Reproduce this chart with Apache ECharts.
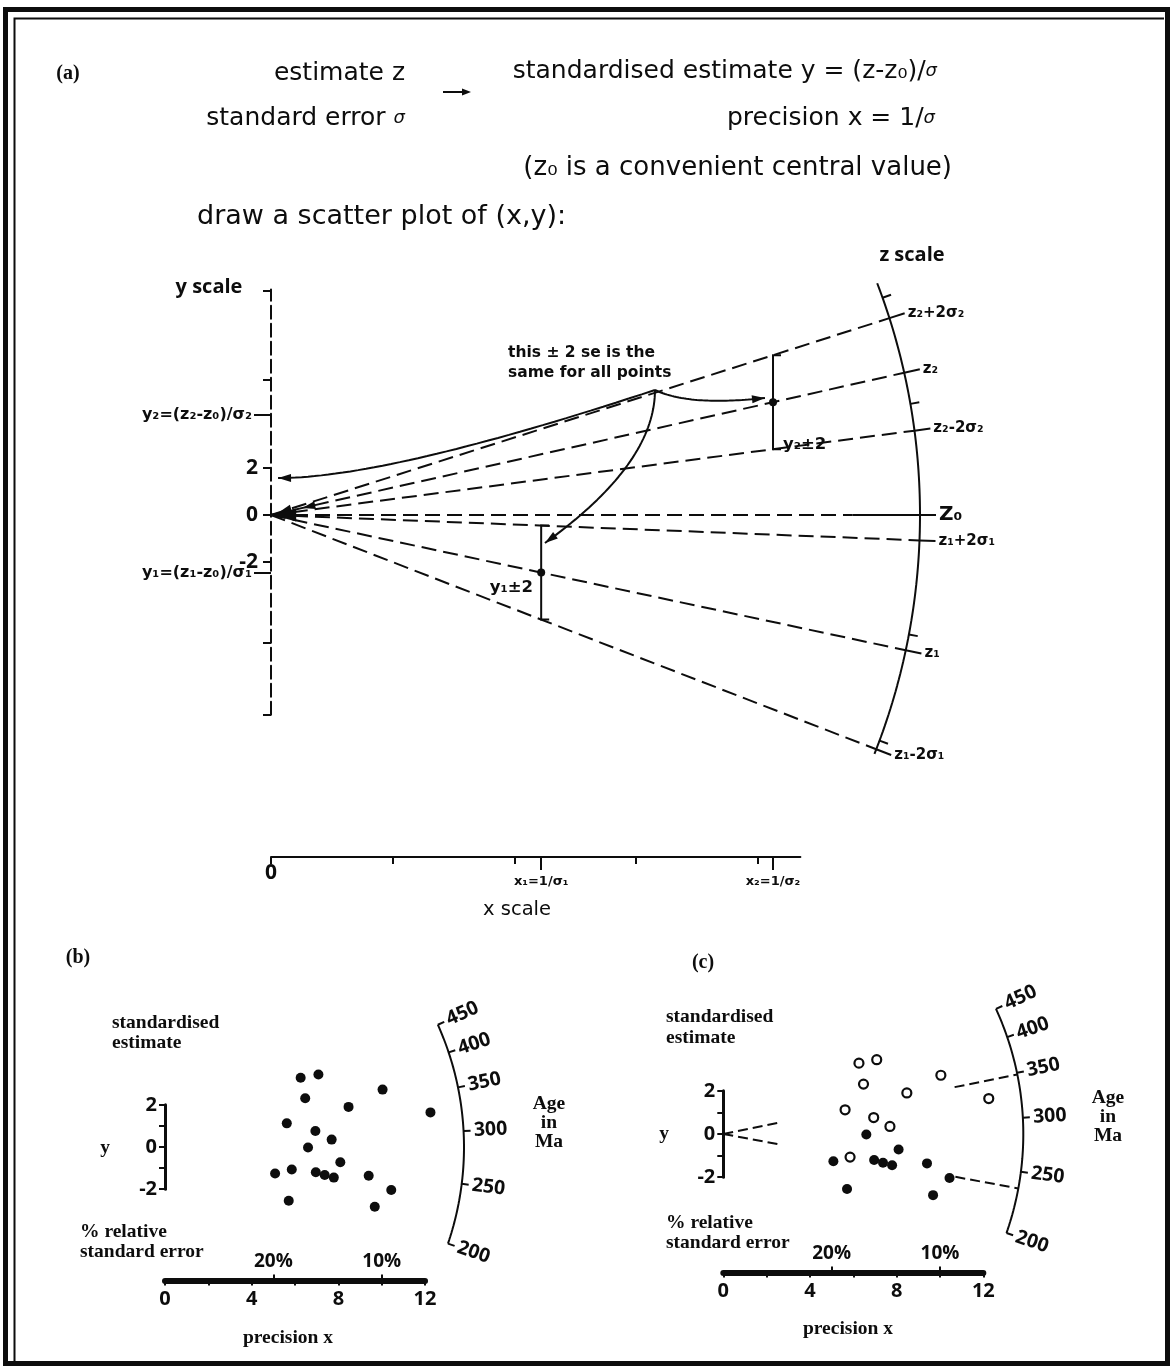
<!DOCTYPE html>
<html>
<head>
<meta charset="utf-8">
<script src="https://cdn.jsdelivr.net/npm/echarts@6/dist/echarts.min.js"></script>
<style>
  html, body { margin: 0; padding: 0; background: #ffffff; }
  #chart { width: 1174px; height: 1367px; }
</style>
</head>
<body>
<div id="chart"></div>
<script>
// ---------------- panel (a): construction of the radial plot ----------------
const aPrecision = [2.22, 4.125];          // x1 = 1/σ1, x2 = 1/σ2
const aStandardised = [-2.45, 4.8];        // y1, y2
const aYTicks = [9.55, 5.75, 2, 0, -2, -5.45, -8.5];
const aYLabelled = [2, 0, -2];
const aYNamedTicks = [4.25, -2.45];        // where y2 and y1 are marked on the y scale
const aYNamedLabels = ['y₂=(z₂-z₀)/σ₂', 'y₁=(z₁-z₀)/σ₁'];
const aXTicks = [0, 1, 2, 3, 4];
const aXLabelled = [0];
const aXNamedLabels = ['x₁=1/σ₁', 'x₂=1/σ₂'];
const aZLabels = ['z₂+2σ₂', 'z₂', 'z₂-2σ₂', 'Z₀', 'z₁+2σ₁', 'z₁', 'z₁-2σ₁'];
const aZMinorSlopes = [1.84, 0.90, -0.97, -1.92];
const aZArcEndSlopes = [1.98, -2.05];
// annotation arrows: Bézier control points (x, y in the units of panel a)
const curveToAxis = [[3.155, 5.32], [0.961, 1.574], [0.058, 1.57]];
const curveToPoint2 = [[3.155, 5.32], [3.361, 4.81], [3.689, 4.77], [4.059, 4.98]];
const curveToPoint1 = [[3.155, 5.32], [3.155, 2.17], [2.251, -1.19]];

// ---------------- panels (b) and (c): 20 grain ages ----------------
const z0Age = 284;                          // central age, Ma
const upperX = [6.26, 7.08, 6.47, 10.04, 8.47, 12.25, 5.62, 6.94, 7.69, 5.85];
const upperY = [3.28, 3.44, 2.31, 2.72, 1.90, 1.64, 1.12, 0.76, 0.35, -1.07];
const lowerX = [6.60, 8.09, 5.08, 6.96, 7.37, 7.79, 9.40, 10.44, 5.71, 9.68];
const lowerY = [-0.02, -0.72, -1.26, -1.20, -1.33, -1.45, -1.36, -2.04, -2.55, -2.83];
const ageTicks = [200, 250, 300, 350, 400, 450];
const componentAges = [348, 236];
const precisionTicks = [0, 4, 8, 12];
const rseTicks = [20, 10];                  // % relative standard error

// ---------------- styling ----------------
const INK = '#0d0d0d';
const SANS = '"Open Sans", "DejaVu Sans", sans-serif';
const WIDE = '"DejaVu Sans", "Open Sans", sans-serif';
const SERIF = '"Liberation Serif", "DejaVu Serif", serif';

const grids = [], xAxes = [], yAxes = [], series = [], graphics = [];
function addGrid(g) { grids.push(Object.assign({ outerBoundsMode: 'none' }, g)); return grids.length - 1; }
function hiddenAxis(gi, min, max) { return { gridIndex: gi, type: 'value', min: min, max: max, show: false }; }
function angleOfSlope(L, s) { return Math.atan2(s * L.Y, L.X); }
function polar(L, r, t) { return [r * Math.cos(t) / L.X, r * Math.sin(t) / L.Y]; }
function arcPts(L, r, t0, t1, n) {
  const pts = [];
  for (let i = 0; i <= n; i++) pts.push(polar(L, r, t0 + (t1 - t0) * i / n));
  return pts;
}
// sample a Bézier curve given by its control points (de Casteljau)
function bezier(ctrl, n) {
  const out = [];
  for (let i = 0; i <= n; i++) {
    const t = i / n;
    let p = ctrl.map(c => c.slice());
    while (p.length > 1) {
      const q = [];
      for (let k = 0; k < p.length - 1; k++)
        q.push([p[k][0] + (p[k + 1][0] - p[k][0]) * t, p[k][1] + (p[k + 1][1] - p[k][1]) * t]);
      p = q;
    }
    out.push(p[0]);
  }
  return out;
}
function segs(xi, yi, list, style, z) {
  return {
    type: 'lines', coordinateSystem: 'cartesian2d', xAxisIndex: xi, yAxisIndex: yi,
    polyline: true, silent: true, z: z || 2, animation: false,
    lineStyle: Object.assign({ color: INK, width: 2, opacity: 1, curveness: 0 }, style || {}),
    data: list.map(c => ({ coords: c }))
  };
}
function curve(xi, yi, pts) {
  return {
    type: 'line', xAxisIndex: xi, yAxisIndex: yi, data: pts, showSymbol: false,
    silent: true, z: 3, lineStyle: { color: INK, width: 2 }
  };
}
function arrowHead(L, pts, len) {
  const n = pts.length - 1;
  const t = Math.atan2((pts[n][1] - pts[n - 1][1]) * L.Y, (pts[n][0] - pts[n - 1][0]) * L.X);
  return {
    value: [pts[n][0] - Math.cos(t) * len / 2 / L.X, pts[n][1] - Math.sin(t) * len / 2 / L.Y],
    symbolRotate: t * 180 / Math.PI - 90
  };
}
function dots(xi, yi, data, size, itemStyle) {
  return { type: 'scatter', xAxisIndex: xi, yAxisIndex: yi, symbolSize: size, silent: true, z: 5,
    itemStyle: Object.assign({ opacity: 1 }, itemStyle), data: data };
}
function txt(text, x, y, o) {
  o = o || {};
  const style = {
    text: text, x: 0, y: 0, fill: INK,
    fontFamily: o.family || (o.serif ? SERIF : SANS), fontSize: o.size || 17,
    fontWeight: o.weight || 'bold', align: o.align || 'left', verticalAlign: 'middle'
  };
  if (o.rich) style.rich = o.rich;
  return { type: 'text', x: x, y: y, silent: true, style: style };
}

// ================= panel (a) =================
const A = { X: 121.7, Y: 23.5, ox: 271, oy: 515 };
const R_A = 649;
const [x1, x2] = aPrecision;
const [y1, y2] = aStandardised;
const aRaySlopes = [(y2 + 2) / x2, y2 / x2, (y2 - 2) / x2, 0, (y1 + 2) / x1, y1 / x1, (y1 - 2) / x1];

const gA = addGrid({ left: A.ox, top: A.oy - 12 * A.Y, width: 6 * A.X, height: 28 * A.Y });
xAxes.push(hiddenAxis(gA, 0, 6));          // x 0
yAxes.push(hiddenAxis(gA, -16, 12));       // y 0

// y scale (dashed)
const gAy = addGrid({ left: A.ox, top: A.oy - 9.6 * A.Y, width: 40, height: 18.1 * A.Y });
xAxes.push(hiddenAxis(gAy, 0, 1));         // x 1
yAxes.push({                               // y 1
  gridIndex: gAy, type: 'value', min: -8.5, max: 9.6, position: 'left',
  axisLine: { onZero: false, lineStyle: { color: INK, width: 2, type: [13, 5] } },
  axisTick: { customValues: aYTicks, length: 8, lineStyle: { color: INK, width: 2 } },
  axisLabel: { customValues: aYLabelled, margin: 13, color: INK, fontFamily: SANS, fontWeight: 'bold', fontSize: 21,
    formatter: v => String(v) },
  splitLine: { show: false }
});
yAxes.push({                               // y 2
  gridIndex: gAy, type: 'value', min: -8.5, max: 9.6, position: 'left',
  axisLine: { show: false, onZero: false },
  axisTick: { customValues: aYNamedTicks, length: 17, lineStyle: { color: INK, width: 2 } },
  axisLabel: { customValues: aYNamedTicks, margin: 19, color: INK, fontFamily: WIDE, fontWeight: 'bold', fontSize: 16,
    formatter: v => aYNamedLabels[aYNamedTicks.indexOf(v)] },
  splitLine: { show: false }
});

// x scale
const gAx = addGrid({ left: A.ox, top: 856, width: 4.35 * A.X, height: 1 });
xAxes.push({                               // x 2
  gridIndex: gAx, type: 'value', min: 0, max: 4.35, position: 'bottom',
  axisLine: { onZero: false, lineStyle: { color: INK, width: 2 } },
  axisTick: { customValues: aXTicks, length: 7, lineStyle: { color: INK, width: 2 } },
  axisLabel: { customValues: aXLabelled, margin: 6, color: INK, fontFamily: SANS, fontWeight: 'bold', fontSize: 21 },
  splitLine: { show: false }
});
xAxes.push({                               // x 3
  gridIndex: gAx, type: 'value', min: 0, max: 4.35, position: 'bottom',
  axisLine: { show: false, onZero: false },
  axisTick: { customValues: aPrecision, length: 13, lineStyle: { color: INK, width: 2 } },
  axisLabel: { customValues: aPrecision, margin: 18, color: INK, fontFamily: WIDE, fontWeight: 'bold', fontSize: 13,
    formatter: v => aXNamedLabels[aPrecision.indexOf(v)] },
  splitLine: { show: false }
});
yAxes.push(hiddenAxis(gAx, 0, 1));         // y 3
series.push({ type: 'line', xAxisIndex: 1, yAxisIndex: 1, data: [], silent: true });
series.push({ type: 'line', xAxisIndex: 2, yAxisIndex: 3, data: [], silent: true });

// rays from the origin to the z scale
const dashedRays = [], solidRays = [];
const z0SolidFrom = 4.78;
aRaySlopes.forEach(s => {
  const end = polar(A, R_A, angleOfSlope(A, s));
  if (s === 0) {
    dashedRays.push([[0, 0], [z0SolidFrom, 0]]);
    solidRays.push([[z0SolidFrom, 0], end]);
  } else {
    dashedRays.push([[0, 0], end]);
  }
});
series.push(segs(0, 0, dashedRays, { type: [15, 7] }));
series.push(segs(0, 0, solidRays, {}));

// z scale arc with its ticks and labels
const tA0 = angleOfSlope(A, aZArcEndSlopes[1]);
const tA1 = angleOfSlope(A, aZArcEndSlopes[0]);
series.push({ type: 'line', xAxisIndex: 0, yAxisIndex: 0, data: arcPts(A, R_A, tA0, tA1, 80),
  showSymbol: false, silent: true, z: 3, lineStyle: { color: INK, width: 2 } });
const zTicks = aRaySlopes.map(s => { const t = angleOfSlope(A, s); return [polar(A, R_A, t), polar(A, R_A + 16, t)]; })
  .concat(aZMinorSlopes.map(s => { const t = angleOfSlope(A, s); return [polar(A, R_A, t), polar(A, R_A + 9, t)]; }));
series.push(segs(0, 0, zTicks, { width: 2 }));
series.push({
  type: 'scatter', xAxisIndex: 0, yAxisIndex: 0, symbolSize: 0, silent: true, z: 6,
  itemStyle: { opacity: 1 },
  data: aRaySlopes.map((s, i) => ({
    value: polar(A, R_A + 16, angleOfSlope(A, s)), name: aZLabels[i],
    label: { fontSize: i === 3 ? 20 : 15 }
  })),
  label: { show: true, position: 'right', distance: 3, formatter: p => p.name, color: INK, opacity: 1,
    fontFamily: WIDE, fontWeight: 'bold' }
});

// ±2 bars and the two estimates
const cap = 8 / A.X;
series.push(segs(0, 0, aPrecision.map((x, i) => {
  const y = aStandardised[i];
  return [[x + cap, y + 2], [x, y + 2], [x, y - 2], [x + cap, y - 2]];
}), { width: 2 }, 4));
series.push(dots(0, 0, aPrecision.map((x, i) => [x, aStandardised[i]]), 8, { color: INK }));

// curved arrows from the note
const curves = [curveToAxis, curveToPoint2, curveToPoint1].map(c => bezier(c, 40));
curves.forEach(c => series.push(curve(0, 0, c)));
series.push({
  type: 'scatter', xAxisIndex: 0, yAxisIndex: 0, symbol: 'triangle', symbolSize: [8, 13], silent: true, z: 6,
  itemStyle: { color: INK, opacity: 1 },
  data: curves.map(c => arrowHead(A, c, 13)).concat([
    arrowHead(A, [[0.3, 0.3 * aRaySlopes[0]], [0.02, 0.02 * aRaySlopes[0]]], 24),
    arrowHead(A, [[0.45, 0.45 * aRaySlopes[1]], [0.25, 0.25 * aRaySlopes[1]]], 15)])
});
series.push({
  type: 'scatter', xAxisIndex: 0, yAxisIndex: 0, symbol: 'triangle', symbolSize: [13, 24], silent: true, z: 6,
  itemStyle: { color: INK, opacity: 1 },
  data: [arrowHead(A, [[0.3, 0], [0.01, 0]], 24)]
});

// ================= panels (b) and (c) =================
function radialPanel(L, R, split) {
  const gP = addGrid({ left: L.ox, top: L.oy - 8 * L.Y, width: 16 * L.X, height: 15 * L.Y });
  const xP = xAxes.push(hiddenAxis(gP, 0, 16)) - 1;
  const yP = yAxes.push(hiddenAxis(gP, -7, 8)) - 1;

  // precision axis with % relative standard error above it
  const gX = addGrid({ left: L.ox, top: L.axisY - 0.5, width: 12 * L.X, height: 1 });
  const xb = xAxes.push({
    gridIndex: gX, type: 'value', min: 0, max: 12, interval: 2, position: 'bottom',
    axisLine: { onZero: false, lineStyle: { color: INK, width: 6 } },
    axisTick: { length: 5, lineStyle: { color: INK, width: 2 } },
    axisLabel: { customValues: precisionTicks, margin: 9, color: INK, fontFamily: SANS, fontWeight: 'bold', fontSize: 20 },
    splitLine: { show: false }
  }) - 1;
  xAxes.push({
    gridIndex: gX, type: 'value', min: 0, max: 12, position: 'top',
    axisLine: { show: false, onZero: false },
    axisTick: { customValues: rseTicks.map(p => 100 / p), length: 5, lineStyle: { color: INK, width: 2 } },
    axisLabel: { customValues: rseTicks.map(p => 100 / p), margin: 8, color: INK, fontFamily: SANS,
      fontWeight: 'bold', fontSize: 19, formatter: v => Math.round(100 / v) + '%' },
    splitLine: { show: false }
  });
  const yX = yAxes.push(hiddenAxis(gX, 0, 1)) - 1;
  series.push({ type: 'line', xAxisIndex: xb, yAxisIndex: yX, data: [], silent: true });

  // standardised estimate bracket
  const gY = addGrid({ left: L.ox, top: L.oy - 2 * L.Y, width: 10, height: 4 * L.Y });
  const xY = xAxes.push(hiddenAxis(gY, 0, 1)) - 1;
  const yY = yAxes.push({
    gridIndex: gY, type: 'value', min: -2, max: 2, interval: 1, position: 'left',
    axisLine: { onZero: false, lineStyle: { color: INK, width: 3 } },
    axisTick: { length: 6, lineStyle: { color: INK, width: 2 } },
    axisLabel: { customValues: [-2, 0, 2], margin: 8, color: INK, fontFamily: SANS, fontWeight: 'bold', fontSize: 20 },
    splitLine: { show: false }
  }) - 1;
  series.push({ type: 'line', xAxisIndex: xY, yAxisIndex: yY, data: [], silent: true });

  // age arc
  const th = a => angleOfSlope(L, Math.log(a / z0Age));
  const t0 = th(ageTicks[0]), t1 = th(ageTicks[ageTicks.length - 1]);
  series.push({ type: 'line', xAxisIndex: xP, yAxisIndex: yP, data: arcPts(L, R, t0, t1, 60),
    showSymbol: false, silent: true, z: 3, lineStyle: { color: INK, width: 2 } });
  series.push(segs(xP, yP, ageTicks.map(a => [polar(L, R, th(a)), polar(L, R + 7, th(a))]), { width: 2 }));
  series.push({
    type: 'scatter', xAxisIndex: xP, yAxisIndex: yP, symbolSize: 0, silent: true, z: 6,
    itemStyle: { opacity: 1 },
    data: ageTicks.map(a => ({
      value: polar(L, R + 27, th(a)), name: String(a),
      label: { rotate: th(a) * 180 / Math.PI }
    })),
    label: { show: true, position: 'inside', formatter: p => p.name, color: INK, opacity: 1,
      fontFamily: SANS, fontWeight: 'bold', fontSize: 19.5 }
  });

  const upper = upperX.map((x, i) => [x, upperY[i]]);
  const lower = lowerX.map((x, i) => [x, lowerY[i]]);
  if (split) {
    series.push(dots(xP, yP, upper, 9, { color: '#ffffff', borderColor: INK, borderWidth: 2.2 }));
    series.push(dots(xP, yP, lower, 10, { color: INK }));
    // component ages shown as rays from the origin
    const rays = [];
    componentAges.forEach(a => {
      const t = th(a);
      rays.push([[0, 0], polar(L, 60, t)]);
      rays.push([polar(L, 236, t), polar(L, R, t)]);
    });
    series.push(segs(xP, yP, rays, { type: [10, 5] }));
  } else {
    series.push(dots(xP, yP, upper.concat(lower), 10, { color: INK }));
  }
}
radialPanel({ ox: 165, oy: 1147, X: 21.67, Y: 21.1, axisY: 1280 }, 299, false);
radialPanel({ ox: 723.3, oy: 1134, X: 21.67, Y: 21.6, axisY: 1272 }, 300, true);

// ================= text =================
const sig = { i: { fontStyle: 'italic', fontSize: 18, fontFamily: WIDE, fontWeight: 'normal', fill: INK } };
const HEAD = { family: WIDE, size: 25, weight: 'normal' };
const headText = (t, x, y, o) => txt(t, x, y, Object.assign({}, HEAD, o || {}));
const SER = { serif: true, size: 19.5 };
const serText = (t, x, y, o) => txt(t, x, y, Object.assign({}, SER, o || {}));
graphics.push(
  txt('(a)', 68, 74, { serif: true, size: 20, align: 'center' }),
  headText('estimate z', 405, 73, { align: 'right' }),
  headText('standard error {i|σ}', 405, 118, { align: 'right', rich: sig }),
  headText('standardised estimate y = (z-z₀)/{i|σ}', 937, 71, { align: 'right', rich: sig }),
  headText('precision x = 1/{i|σ}', 935, 118, { align: 'right', rich: sig }),
  headText('(z₀ is a convenient central value)', 952, 168, { align: 'right', size: 26 }),
  headText('draw a scatter plot of (x,y):', 197, 217, { size: 27 }),
  txt('z scale', 912, 255, { size: 20, align: 'center' }),
  txt('y scale', 209, 287, { size: 20, align: 'center' }),
  txt('x scale', 517, 910, { family: WIDE, size: 19.5, weight: 'normal', align: 'center' }),
  txt('this ± 2 se is the', 508, 353, { family: WIDE, size: 15.5 }),
  txt('same for all points', 508, 373, { family: WIDE, size: 15.5 }),
  txt('y₂±2', 783, 445, { family: WIDE, size: 16.5 }),
  txt('y₁±2', 533, 588, { family: WIDE, size: 16.5, align: 'right' }),

  txt('(b)', 78, 958, { serif: true, size: 20, align: 'center' }),
  serText('standardised', 112, 1023),
  serText('estimate', 112, 1043),
  serText('y', 105, 1148, { align: 'center' }),
  serText('% relative', 80, 1232),
  serText('standard error', 80, 1252),
  serText('precision x', 288, 1338, { align: 'center' }),
  serText('Age', 549, 1104, { align: 'center' }),
  serText('in', 549, 1123, { align: 'center' }),
  serText('Ma', 549, 1142, { align: 'center' }),

  txt('(c)', 703, 963, { serif: true, size: 20, align: 'center' }),
  serText('standardised', 666, 1017),
  serText('estimate', 666, 1038),
  serText('y', 664, 1134, { align: 'center' }),
  serText('% relative', 666, 1223),
  serText('standard error', 666, 1243),
  serText('precision x', 848, 1329, { align: 'center' }),
  serText('Age', 1108, 1098, { align: 'center' }),
  serText('in', 1108, 1117, { align: 'center' }),
  serText('Ma', 1108, 1136, { align: 'center' })
);
// mapping arrow between the two columns of definitions
graphics.push(
  { type: 'polyline', silent: true, shape: { points: [[443, 92], [463, 92]] }, style: { stroke: INK, lineWidth: 2, fill: 'none' } },
  { type: 'polygon', silent: true, shape: { points: [[471, 92], [462, 88.5], [462, 95.5]] }, style: { fill: INK } }
);
// frame
graphics.push(
  { type: 'rect', silent: true, shape: { x: 5.5, y: 9.5, width: 1162, height: 1354 }, style: { fill: 'none', stroke: INK, lineWidth: 5 } },
  { type: 'polyline', silent: true, shape: { points: [[14.5, 1362], [14.5, 18.5], [1164, 18.5]] }, style: { fill: 'none', stroke: INK, lineWidth: 2 } }
);

const chart = echarts.init(document.getElementById('chart'), null, { renderer: 'canvas' });
chart.setOption({
  animation: false,
  backgroundColor: '#ffffff',
  textStyle: { fontFamily: SANS, color: INK },
  grid: grids,
  xAxis: xAxes,
  yAxis: yAxes,
  series: series,
  graphic: { elements: graphics }
});
</script>
</body>
</html>
